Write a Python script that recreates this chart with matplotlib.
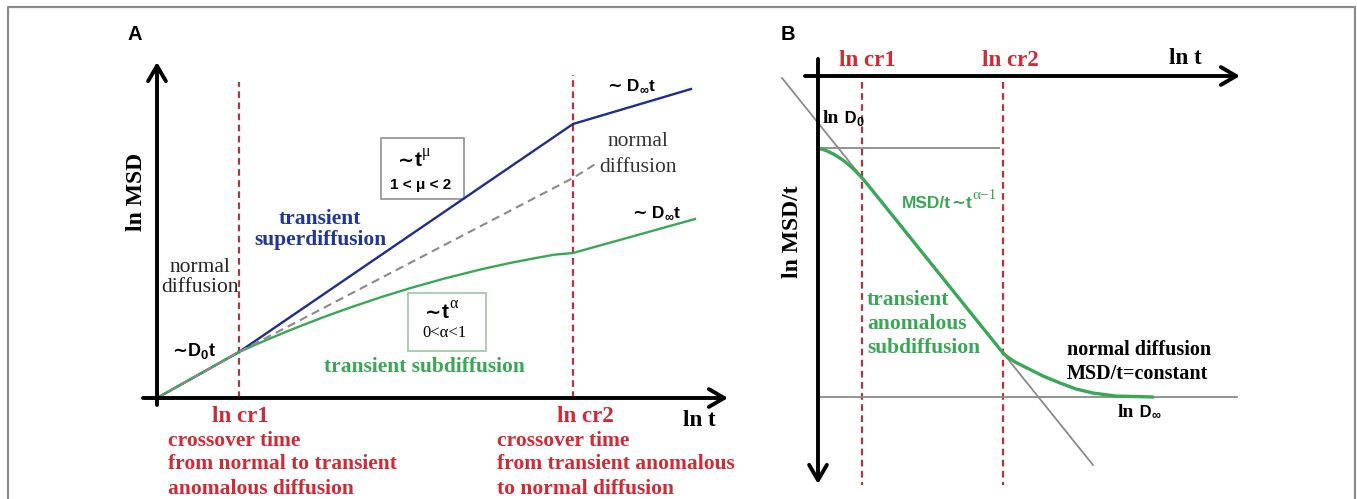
import matplotlib.pyplot as plt
from matplotlib.lines import Line2D
from matplotlib.patches import Rectangle

SERIF = "Liberation Serif"
SANS = ["Liberation Sans", "DejaVu Sans"]
TILDE = "DejaVu Sans"
RED = "#d02a35"
RED_LINE = "#b8323e"
BLUE = "#1f2d8c"
BLUE_TEXT = "#22369a"
GREEN = "#3aa757"
GRAY = "#8a8a8a"

# Panel A: ln t against ln MSD (arbitrary units)
a_ln_cr1 = 2.05
a_ln_cr2 = 10.4
a_normal_t = [0.0, 2.05, 10.4, 11.0]
a_normal_msd = [0.0, 1.15, 5.5, 5.875]
a_super_t = [0.0, 2.05, 10.4, 13.35]
a_super_msd = [0.0, 1.15, 6.85, 7.725]
a_sub_t = [0.0, 2.05, 2.45, 2.825, 3.2, 3.575, 4.2, 4.825, 5.575, 6.325,
           7.2, 8.15, 8.825, 9.5, 9.95, 10.4, 13.45]
a_sub_msd = [0.0, 1.15, 1.328, 1.488, 1.644, 1.795, 2.035, 2.26, 2.513,
             2.745, 2.991, 3.228, 3.375, 3.505, 3.585, 3.625, 4.475]

# Panel B: ln t against ln MSD/t (axis points downwards)
b_ln_cr1 = 1.1
b_ln_cr2 = 4.625
b_ln_d0 = 1.8
b_ln_dinf = 8.025
b_asym_t = [-0.9, 6.875]
b_asym_val = [0.05, 9.725]
b_curve_t = [0.0, 0.125, 0.25, 0.375, 0.5, 0.625, 0.75, 0.875, 1.0, 1.125,
             1.25, 4.625, 4.775, 4.925, 5.225, 5.625, 6.05, 6.45, 6.875,
             7.425, 8.375]
b_curve_val = [1.8, 1.836, 1.885, 1.945, 2.02, 2.105, 2.203, 2.315, 2.44,
               2.575, 2.725, 6.925, 7.05, 7.15, 7.3, 7.5, 7.675, 7.825,
               7.925, 8.0, 8.025]


def axis_arrow(ax, start, tip):
    ax.annotate(
        "", xy=tip, xytext=start,
        arrowprops=dict(arrowstyle="->,head_length=0.55,head_width=0.32",
                        lw=2.8, color="black", mutation_scale=20,
                        shrinkA=0, shrinkB=0),
    )


def serif(ax, x, y, s, size=15.5, color="black", weight="bold", **kw):
    ax.text(x, y, s, fontsize=size, color=color, fontweight=weight,
            family=SERIF, va="center", **kw)


def run(ax, x, y, parts, color="black"):
    """Write pieces of text one after another on a common baseline.

    parts: (text, family, size, weight, rise in points)
    """
    prev = None
    for text, family, size, weight, rise in parts:
        kw = dict(family=family, fontsize=size, fontweight=weight,
                  color=color, ha="left", va="baseline")
        if prev is None:
            prev = ax.text(x, y, text, **kw)
        else:
            prev = ax.annotate(text, xy=(1, y), xycoords=(prev, "data"),
                               xytext=(0.3, rise), textcoords="offset points",
                               annotation_clip=False, **kw)


def tilde_t_pow(ax, x, y, power):
    run(ax, x, y, [("∼", TILDE, 14, "bold", 0),
                   ("t", SANS, 15, "bold", 0),
                   (power, SERIF, 11.5, "normal", 7)])


def tilde_d_t(ax, x, y, sub, size=12.5):
    run(ax, x, y, [("∼", TILDE, size, "bold", 0),
                   (" D" if sub == "∞" else "D", SANS, size, "bold", 0),
                   (sub, SANS, size * 0.72, "bold", -2.5),
                   ("t", SANS, size, "bold", 0)])


fig = plt.figure(figsize=(13.57, 4.99), dpi=100)

# outer frame
fig.add_artist(Line2D([8 / 1357, 8 / 1357, 1355 / 1357, 1355 / 1357],
                      [0, 1 - 7 / 499, 1 - 7 / 499, 0],
                      transform=fig.transFigure, color="#8c8c8c", lw=1.6))

fig.text(135 / 1357, 1 - 35 / 499, "A", fontsize=14.5, fontweight="bold",
         family=SANS, ha="center", va="center")
fig.text(788 / 1357, 1 - 35 / 499, "B", fontsize=14.5, fontweight="bold",
         family=SANS, ha="center", va="center")

# ---------------- panel A ----------------
axA = fig.add_axes([0, 0, 1, 1])
axA.set_xlim(-3.925, 30.0)
axA.set_ylim(-2.525, 9.95)
axA.set_axis_off()

axA.plot([a_ln_cr1, a_ln_cr1], [0, 7.9], color=RED_LINE, lw=1.6,
         dashes=(3, 2))
axA.plot([a_ln_cr2, a_ln_cr2], [0, 8.075], color=RED_LINE, lw=1.6,
         dashes=(3, 2))

axA.plot(a_super_t, a_super_msd, color=BLUE, lw=1.7)
axA.plot(a_sub_t, a_sub_msd, color=GREEN, lw=1.7)
axA.plot(a_normal_t, a_normal_msd, color=GRAY, lw=1.5, dashes=(4, 2.5))

axis_arrow(axA, (0, -0.175), (0, 8.4))
axis_arrow(axA, (-0.35, 0), (14.275, 0))

serif(axA, -0.525, 5.15, "ln MSD", size=17, rotation=90, ha="center")
serif(axA, 13.55, -0.55, "ln t", size=16.5, ha="center")

serif(axA, 1.075, 3.25, "normal", weight="normal", ha="center", color="#222222")
serif(axA, 1.075, 2.75, "diffusion", weight="normal", ha="center",
      color="#222222")
serif(axA, 12.025, 6.4, "normal", weight="normal", ha="center", color="#333333")
serif(axA, 12.025, 5.775, "diffusion", weight="normal", ha="center",
      color="#333333")

serif(axA, 4.075, 4.475, "transient", color=BLUE_TEXT, ha="center")
serif(axA, 4.075, 3.95, "superdiffusion", color=BLUE_TEXT, ha="center")
serif(axA, 6.675, 0.775, "transient subdiffusion", color=GREEN, ha="center")

axA.add_patch(Rectangle((5.6, 4.975), 2.075, 1.525, fill=False,
                        edgecolor="#8f8f8f", lw=1.2))
tilde_t_pow(axA, 6.025, 5.8, "μ")
axA.text(6.6, 5.325, "1 < μ < 2", fontsize=11, fontweight="bold",
         family=SANS, ha="center", va="center")

axA.add_patch(Rectangle((6.275, 1.175), 1.95, 1.45, fill=False,
                        edgecolor="#9cc4a8", lw=1.2))
tilde_t_pow(axA, 6.7, 2.0, "α")
serif(axA, 7.175, 1.625, "0<α<1", size=12, weight="normal", ha="center")

tilde_d_t(axA, 0.375, 1.05, "0", size=13)
tilde_d_t(axA, 11.25, 7.675, "∞")
tilde_d_t(axA, 11.875, 4.5, "∞")

serif(axA, 2.075, -0.475, "ln cr1", size=16.5, color=RED, ha="center")
serif(axA, 10.7, -0.475, "ln cr2", size=16.5, color=RED, ha="center")
for y, line in zip([-1.075, -1.65, -2.275],
                   ["crossover time", "from normal to transient",
                    "anomalous diffusion"]):
    serif(axA, 0.275, y, line, color=RED, ha="left")
for y, line in zip([-1.075, -1.65, -2.275],
                   ["crossover time", "from transient anomalous",
                    "to normal diffusion"]):
    serif(axA, 8.5, y, line, color=RED, ha="left")

# ---------------- panel B ----------------
axB = fig.add_axes([0, 0, 1, 1])
axB.set_xlim(-20.45, 13.475)
axB.set_ylim(10.575, -1.9)
axB.set_axis_off()
axB.patch.set_alpha(0)

axB.plot([b_ln_cr1, b_ln_cr1], [0.15, 10.225], color=RED_LINE, lw=1.6,
         dashes=(3, 2))
axB.plot([b_ln_cr2, b_ln_cr2], [0.15, 10.225], color=RED_LINE, lw=1.6,
         dashes=(3, 2))

axB.plot([0, 4.525], [b_ln_d0, b_ln_d0], color=GRAY, lw=1.3)
axB.plot([0, 10.475], [b_ln_dinf, b_ln_dinf], color=GRAY, lw=1.3)
axB.plot(b_asym_t, b_asym_val, color=GRAY, lw=1.3)
axB.plot(b_curve_t, b_curve_val, color=GREEN, lw=2.4, solid_capstyle="round",
         solid_joinstyle="round")

axis_arrow(axB, (0, -0.425), (0, 10.2))
axis_arrow(axB, (-0.325, 0), (10.55, 0))

serif(axB, -0.625, 3.9, "ln MSD/t", size=17, rotation=90, ha="center")
serif(axB, 9.175, -0.45, "ln t", size=16.5, ha="center")
serif(axB, 1.225, -0.4, "ln cr1", size=16.5, color=RED, ha="center")
serif(axB, 4.8, -0.4, "ln cr2", size=16.5, color=RED, ha="center")

run(axB, 0.125, 1.175, [("ln", SERIF, 14, "bold", 0),
                        (" D", SANS, 12, "bold", 0),
                        ("0", SANS, 9, "bold", -2.5)])
run(axB, 7.5, 8.525, [("ln", SERIF, 14, "bold", 0),
                      (" D", SANS, 12, "bold", 0),
                      ("∞", SANS, 9, "bold", -1.5)])

run(axB, 2.1, 3.3, [("MSD/t", SANS, 12.5, "bold", 0),
                    ("∼", TILDE, 12, "bold", 0),
                    ("t", SANS, 12.5, "bold", 0),
                    ("α−1", SERIF, 11, "normal", 6.5)], color=GREEN)
for y, line in zip([5.6, 6.2, 6.8], ["transient", "anomalous", "subdiffusion"]):
    serif(axB, 1.225, y, line, color=GREEN, ha="left")
serif(axB, 6.225, 6.85, "normal diffusion", size=14.5, ha="left")
serif(axB, 6.225, 7.45, "MSD/t=constant", size=14.5, ha="left")

fig.savefig("out.png", dpi=100)
